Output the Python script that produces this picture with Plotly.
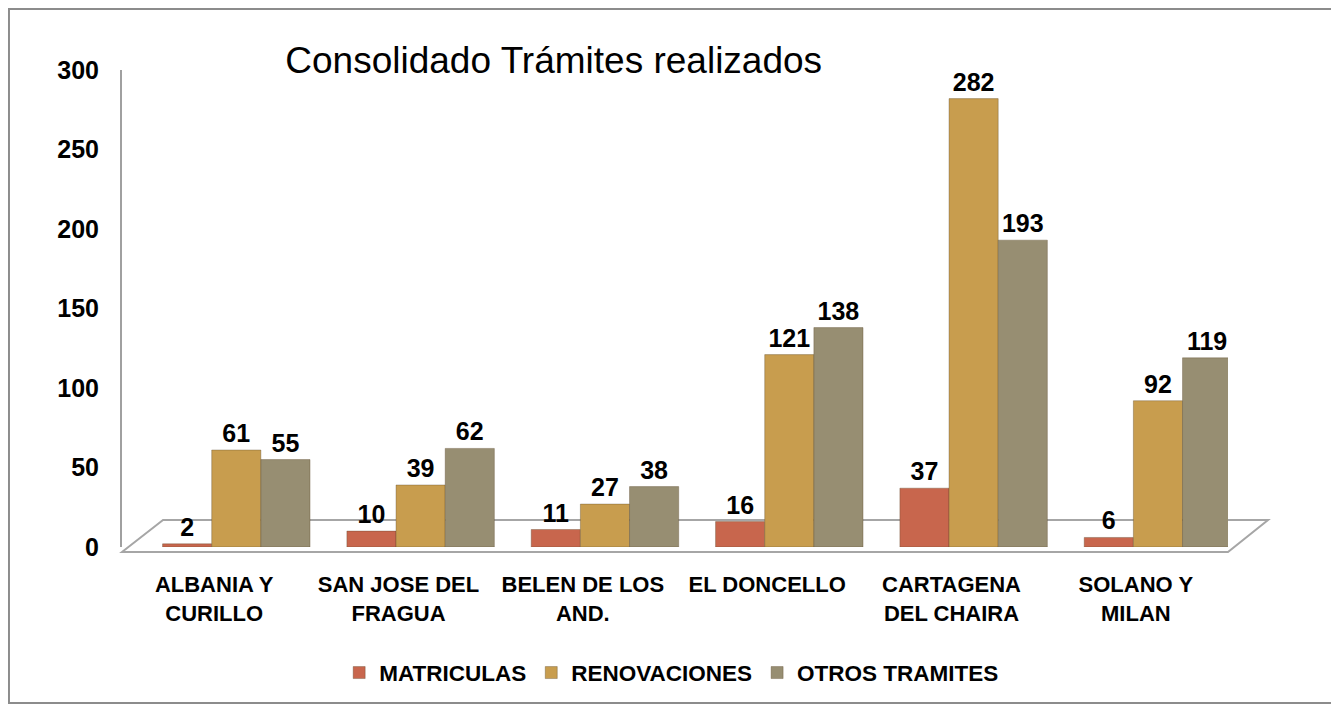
import plotly.graph_objects as go

categories = ["ALBANIA Y<br>CURILLO", "SAN JOSE DEL<br>FRAGUA", "BELEN DE LOS<br>AND.",
              "EL DONCELLO", "CARTAGENA<br>DEL CHAIRA", "SOLANO Y<br>MILAN"]
matriculas = [2, 10, 11, 16, 37, 6]
renovaciones = [61, 39, 27, 121, 282, 92]
otros_tramites = [55, 62, 38, 138, 193, 119]
series_names = ["MATRICULAS", "RENOVACIONES", "OTROS TRAMITES"]
y_ticks = [0, 50, 100, 150, 200, 250, 300]

colors = ["#C8664D", "#C89D4E", "#978E72"]
depth_shift = 0.12  # perspective shift of bars relative to category labels

idx = list(range(len(categories)))
xpos = [i + depth_shift for i in idx]

SANS = "Liberation Sans, Arial, sans-serif"

fig = go.Figure()
for name, vals, col in zip(series_names, [matriculas, renovaciones, otros_tramites], colors):
    fig.add_trace(go.Bar(
        x=xpos, y=vals, name=name,
        marker=dict(color=col, line=dict(color="rgba(90,70,40,0.35)", width=1)),
        text=[str(v) for v in vals], textposition="outside",
        textfont=dict(family=SANS, size=25, color="black", weight="bold"),
        cliponaxis=False,
    ))

fig.update_layout(
    width=1331, height=701,
    margin=dict(l=114, r=111, t=62, b=162, autoexpand=False),
    paper_bgcolor="white", plot_bgcolor="white",
    barmode="group", bargap=0.2, bargroupgap=0,
    title=dict(text="Consolidado Trámites realizados", x=0.41, xanchor="center",
               y=0.926, yanchor="middle",
               font=dict(family=SANS, size=37, color="black")),
    showlegend=True,
    legend=dict(orientation="h", x=0.497, xanchor="center", y=-0.264, yanchor="middle",
                font=dict(family=SANS, size=22.5, color="black", weight="bold"),
                itemwidth=30, traceorder="normal"),
    font=dict(family=SANS),
)

fig.update_xaxes(
    range=[-0.5, len(categories) - 0.5],
    tickmode="array", tickvals=idx, ticktext=categories, tickangle=0,
    tickfont=dict(family=SANS, size=22, color="black", weight="bold"),
    showgrid=False, zeroline=False, showline=False, ticks="",
    ticklabelstandoff=22, automargin=False,
)
fig.update_yaxes(
    range=[0, 300], tickmode="array", tickvals=y_ticks,
    tickfont=dict(family=SANS, size=25, color="black", weight="bold"),
    showgrid=False, zeroline=False, showline=True, linecolor="#A0A0A0", linewidth=2,
    ticks="", ticklabelstandoff=16, automargin=False,
)

# chart frame
fig.add_shape(type="rect", xref="paper", yref="paper",
              x0=-0.1022, x1=1.0949, y0=-0.327, y1=1.128,
              line=dict(color="#8C8C8C", width=2), layer="below")
# 3D floor outline
fig.add_shape(type="path", xref="paper", yref="paper",
              path="M 0,-0.0105 L 0.0371,0.0566 L 1.0362,0.0566 L 1.0,-0.0105 Z",
              line=dict(color="#A6A6A6", width=2), fillcolor="rgba(0,0,0,0)", layer="below")

fig.write_html("out.html")
